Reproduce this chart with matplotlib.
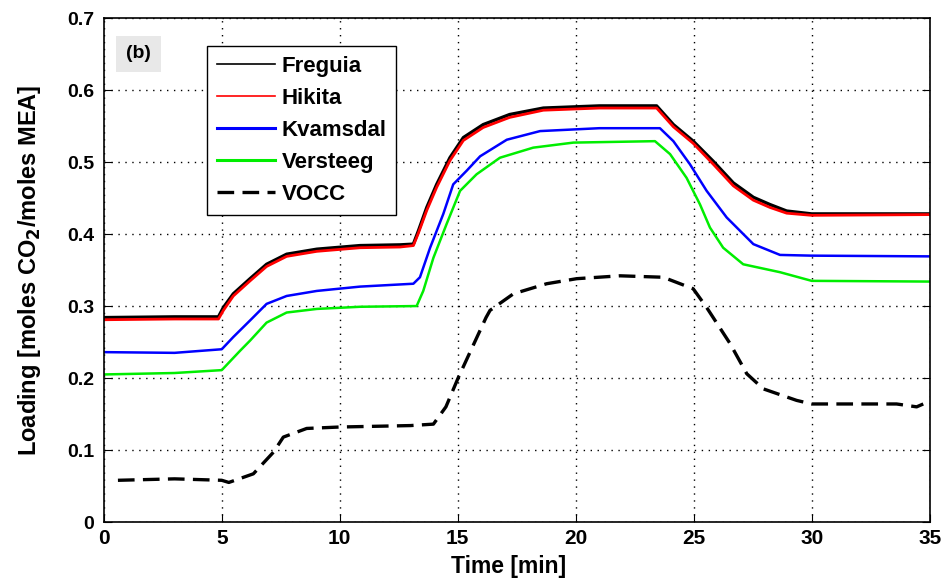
import numpy as np
import matplotlib.pyplot as plt

plt.rcParams['font.family'] = ['Liberation Sans', 'DejaVu Sans']
plt.rcParams['font.weight'] = 'bold'
plt.rcParams['mathtext.default'] = 'bf'

# Freguia / Hikita
t_fh = [0, 3, 4.86, 5.07, 5.49, 6.2, 6.9, 7.75, 9.03, 10.86, 12.56, 13.12, 13.33, 13.69, 14.11,
        14.67, 15.24, 16.08, 17.2, 18.63, 21.0, 23.43, 24.14, 24.98, 25.83, 26.68, 27.53, 28.23,
        28.94, 30, 35]
freguia = [0.284, 0.285, 0.285, 0.298, 0.317, 0.338, 0.358, 0.372, 0.379, 0.384, 0.385, 0.386,
           0.404, 0.437, 0.469, 0.506, 0.534, 0.552, 0.566, 0.575, 0.578, 0.578, 0.552, 0.529,
           0.501, 0.471, 0.451, 0.441, 0.432, 0.428, 0.428]
hikita = [0.281, 0.282, 0.282, 0.294, 0.314, 0.335, 0.355, 0.369, 0.376, 0.381, 0.382, 0.384,
          0.401, 0.433, 0.465, 0.502, 0.530, 0.548, 0.562, 0.572, 0.575, 0.575, 0.549, 0.526,
          0.497, 0.467, 0.447, 0.437, 0.429, 0.426, 0.427]

# Kvamsdal
t_kv = [0, 3, 5, 5.49, 6.2, 6.9, 7.75, 9.03, 10.86, 13.12, 13.4, 13.83, 14.39, 14.81, 15.38,
        15.95, 17.08, 18.49, 21.0, 23.57, 24.14, 24.84, 25.55, 26.4, 27.53, 28.66, 30, 35]
kvamsdal = [0.236, 0.235, 0.240, 0.257, 0.280, 0.303, 0.314, 0.321, 0.327, 0.331, 0.340, 0.381,
            0.428, 0.469, 0.488, 0.508, 0.531, 0.543, 0.547, 0.547, 0.529, 0.497, 0.460, 0.423,
            0.386, 0.371, 0.370, 0.369]

# Versteeg
t_vs = [0, 3, 5, 5.78, 6.2, 6.9, 7.75, 9.03, 10.86, 13.26, 13.54, 13.97, 14.53, 15.1, 15.8,
        16.79, 18.2, 19.9, 23.36, 24.0, 24.7, 25.27, 25.69, 26.25, 27.1, 28.66, 30, 35]
versteeg = [0.205, 0.207, 0.211, 0.238, 0.252, 0.277, 0.291, 0.296, 0.299, 0.300, 0.321, 0.367,
            0.414, 0.460, 0.483, 0.506, 0.520, 0.527, 0.529, 0.511, 0.478, 0.441, 0.409, 0.381,
            0.358, 0.347, 0.335, 0.334]

# VOCC
t_vo = [0.6, 3, 5, 5.3, 6.34, 7.19, 7.61, 8.6, 10, 13.0, 13.97, 14.5, 15.03, 16.2, 16.37, 17.36,
        18.77, 20.04, 21.88, 23.71, 24.98, 25.55, 26.54, 27.25, 27.95, 29.36, 30, 33.6, 34.45, 34.73]
vocc = [0.058, 0.060, 0.058, 0.055, 0.067, 0.097, 0.118, 0.130, 0.132, 0.134, 0.136, 0.160, 0.201,
        0.284, 0.294, 0.317, 0.331, 0.338, 0.342, 0.340, 0.324, 0.298, 0.248, 0.206, 0.185, 0.169,
        0.164, 0.164, 0.160, 0.164]

fig = plt.figure(figsize=(9.52, 5.82), dpi=100)
ax = fig.add_axes([0.109, 0.103, 0.8675, 0.866])

ax.plot(t_fh, freguia, color='black', lw=2.4, label='Freguia')
ax.plot(t_fh, hikita, color='red', lw=2.0, label='Hikita')
ax.plot(t_kv, kvamsdal, color='blue', lw=1.8, label='Kvamsdal')
ax.plot(t_vs, versteeg, color='#00ee00', lw=1.8, label='Versteeg')
ax.plot(t_vo, vocc, color='black', lw=2.4, ls=(0, (5, 2.5)), label='VOCC')

ax.set_xlim(0, 35)
ax.set_ylim(0, 0.7)
ax.set_xticks(np.arange(0, 36, 5))
ax.set_yticks(np.arange(0, 0.71, 0.1))
ax.set_yticklabels(['0', '0.1', '0.2', '0.3', '0.4', '0.5', '0.6', '0.7'])
ax.grid(True, color='black', ls=(0, (1, 4)), lw=1.0)
ax.tick_params(direction='in', length=6, top=False, right=True)
ax.tick_params(axis='x', labelsize=15, pad=5)
ax.tick_params(axis='y', labelsize=14, pad=7)
for lbl in ax.get_xticklabels() + ax.get_yticklabels():
    lbl.set_fontweight('bold')
for s in ax.spines.values():
    s.set_linewidth(1.2)

ax.set_xlabel('Time [min]', fontsize=16.5, fontweight='bold')
ax.xaxis.set_label_coords(0.49, -0.066)
ax.set_ylabel(r'Loading [moles CO$_2$/moles MEA]', fontsize=17, fontweight='bold')
ax.yaxis.set_label_coords(-0.074, 0.5)

ax.text(0.042, 0.929, '(b)', transform=ax.transAxes, fontsize=14, fontweight='bold',
        ha='center', va='center',
        bbox=dict(facecolor='#e8e8e8', edgecolor='none', pad=7))

leg = ax.legend(loc='upper left', bbox_to_anchor=(0.125, 0.945), fontsize=16, frameon=True,
                fancybox=False, edgecolor='black', framealpha=1, handlelength=2.6,
                handletextpad=0.3, borderpad=0.45, labelspacing=0.5, borderaxespad=0)
leg.get_frame().set_linewidth(1.0)
for txt in leg.get_texts():
    txt.set_fontweight('bold')
for h, w in zip(leg.get_lines(), [1.2, 1.2, 2.2, 2.2, 2.4]):
    h.set_linewidth(w)

fig.savefig('out.png', dpi=100)
